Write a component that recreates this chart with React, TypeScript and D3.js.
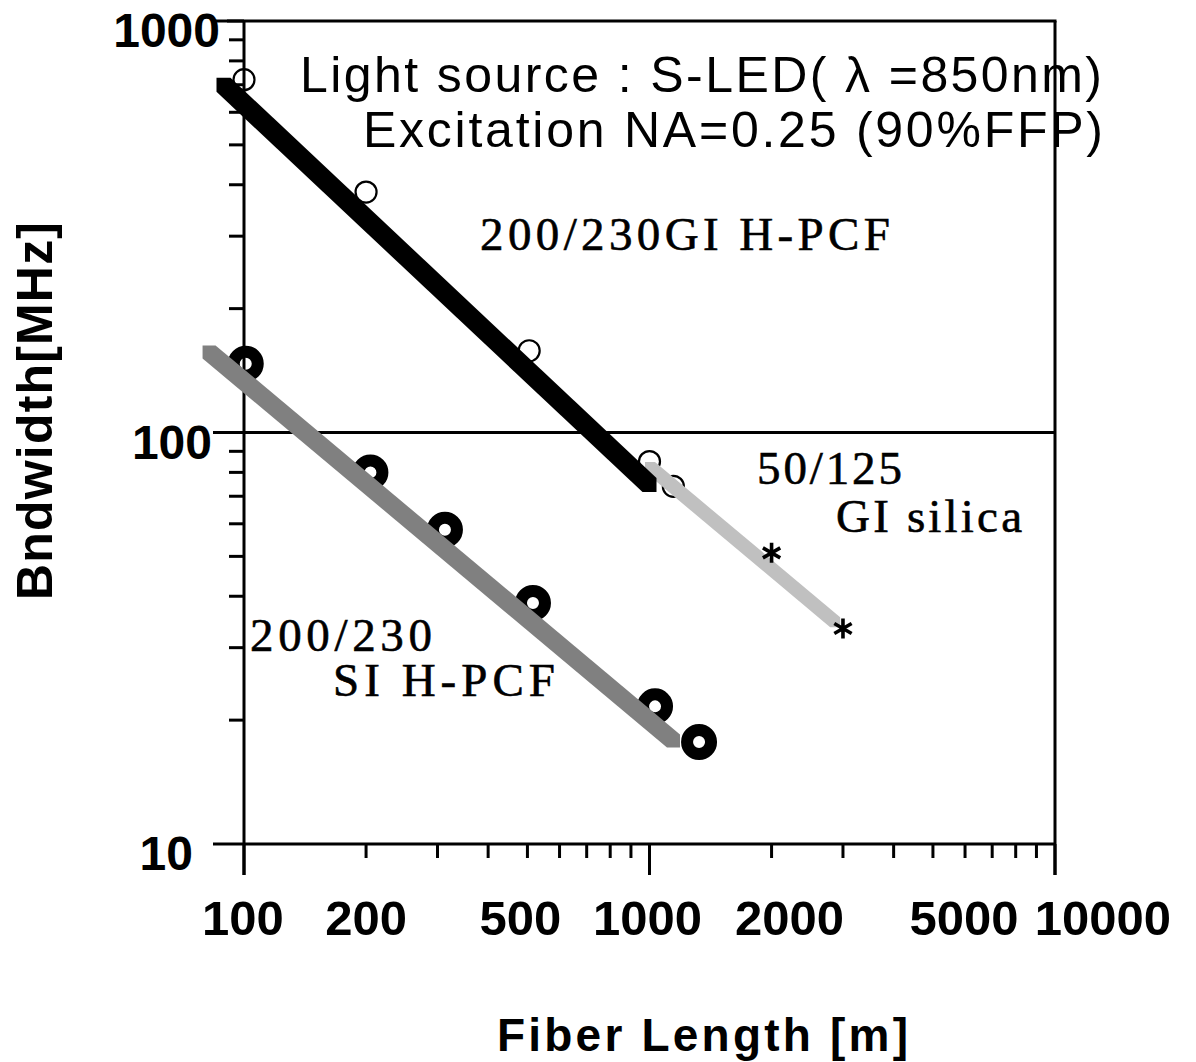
import React from "react";
import * as d3 from "d3";

// Measured bandwidth vs. fiber length
const giLength = [100, 200, 505, 1000, 1145];
const giBandwidth = [720, 384, 158, 85, 74];
const siLength = [101, 205, 313, 516, 1032, 1325];
const siBandwidth = [147, 80, 58, 38.5, 21.6, 17.7];
const silicaLength = [2000, 3000];
const silicaBandwidth = [51, 33.4];

// Fitted trend lines (end points)
const giFitLength = [89, 1000];
const giFitBandwidth = [700, 74.5];
const siFitLength = [82, 1146];
const siFitBandwidth = [157, 17.8];
const silicaFitLength = [1003, 2870];
const silicaFitBandwidth = [82.4, 34.6];

// Axis labels
const xTickLabels = ["100", "200", "500", "1000", "2000", "5000", "10000"];
const yTickLabels = ["10", "100", "1000"];

const W = 1196;
const H = 1062;

const x = d3.scaleLog().domain([100, 10000]).range([244, 1055]);
const y = d3.scaleLog().domain([10, 1000]).range([844, 21]);

// label placement tweaks (pixel shifts from tick position)
const xLabelShift: Record<string, number> = {
  "100": -1, "200": 0, "500": -7, "1000": -2, "2000": 18, "5000": 31, "10000": 48,
};
const yLabelRight: Record<string, number> = { "10": 193, "100": 212, "1000": 220 };

const SANS = "'Liberation Sans', Arial, Helvetica, sans-serif";
const SERIF = "'Liberation Serif', 'Times New Roman', serif";

// Thick line drawn with a square pen: hull of the pen squares at both ends
function penPath(xs: number[], ys: number[], s: number): string {
  const h = s / 2;
  const pts: [number, number][] = [];
  for (let i = 0; i < xs.length; i++) {
    const px = x(xs[i]);
    const py = y(ys[i]);
    pts.push([px - h, py - h], [px + h, py - h], [px + h, py + h], [px - h, py + h]);
  }
  const hull = d3.polygonHull(pts) || pts;
  return "M" + hull.map((p) => p.join(",")).join("L") + "Z";
}

function asteriskPath(cx: number, cy: number, r: number): string {
  let d = "";
  for (const a of [90, 30, 150]) {
    const rad = (a * Math.PI) / 180;
    const dx = Math.cos(rad) * r;
    const dy = Math.sin(rad) * r;
    d += `M${cx - dx},${cy - dy}L${cx + dx},${cy + dy}`;
  }
  return d;
}

export default function App() {
  const xTicks = x.ticks();
  const yTicks = y.ticks();
  const isMajor = (v: number) => Math.abs(Math.log10(v) - Math.round(Math.log10(v))) < 1e-9;

  return (
    <svg
      width={W}
      height={H}
      viewBox={`0 0 ${W} ${H}`}
      style={{ position: "absolute", left: 0, top: 0, background: "#fff" }}
    >
      <rect x={0} y={0} width={W} height={H} fill="#fff" />

      {/* ticks, grid line and axes */}
      <g stroke="#000" strokeWidth={3}>
        {xTicks.map((t, i) => (
          <line
            key={"xt" + i}
            x1={x(t)}
            x2={x(t)}
            y1={y(10)}
            y2={y(10) + (isMajor(t) ? 31 : 14)}
          />
        ))}
        {yTicks.map((t, i) => (
          <line
            key={"yt" + i}
            x1={x(100) - (isMajor(t) ? 31 : 15)}
            x2={x(100)}
            y1={y(t)}
            y2={y(t)}
          />
        ))}
        {/* grid line at 100 MHz */}
        <line x1={x(100)} x2={x(10000)} y1={y(100)} y2={y(100)} />
        <line x1={x(100)} x2={x(10000)} y1={y(10)} y2={y(10)} />
        <line x1={x(100)} x2={x(100)} y1={y(1000)} y2={y(10) + 31} />
      </g>

      {/* SI H-PCF markers */}
      <g fill="none" stroke="#000" strokeWidth={12}>
        {siLength.map((l, i) => (
          <circle key={"si" + i} cx={x(l)} cy={y(siBandwidth[i])} r={12} />
        ))}
      </g>
      {/* GI H-PCF markers */}
      <g fill="none" stroke="#000" strokeWidth={2.2}>
        {giLength.map((l, i) => (
          <circle key={"gi" + i} cx={x(l)} cy={y(giBandwidth[i])} r={10.5} />
        ))}
      </g>

      {/* fitted lines */}
      <path d={penPath(silicaFitLength, silicaFitBandwidth, 10)} fill="#c0c0c0" />
      <path d={penPath(siFitLength, siFitBandwidth, 13)} fill="#808080" />
      <path d={penPath(giFitLength, giFitBandwidth, 14)} fill="#000" />

      {/* GI silica markers */}
      <g stroke="#000" strokeWidth={3.6} strokeLinecap="butt">
        {silicaLength.map((l, i) => (
          <path key={"sq" + i} d={asteriskPath(x(l), y(silicaBandwidth[i]), 10)} />
        ))}
      </g>

      {/* tick labels */}
      <g fontFamily={SANS} fontWeight="bold" fontSize={49} fill="#000">
        {xTickLabels.map((lab) => (
          <text
            key={"xl" + lab}
            x={x(+lab) + xLabelShift[lab]}
            y={935}
            textAnchor="middle"
          >
            {lab}
          </text>
        ))}
      </g>
      <g fontFamily={SANS} fontWeight="bold" fontSize={48} fill="#000">
        {yTickLabels.map((lab) => (
          <text
            key={"yl" + lab}
            x={yLabelRight[lab]}
            y={y(+lab) + 26}
            textAnchor="end"
          >
            {lab}
          </text>
        ))}
      </g>

      {/* axis titles */}
      <text
        x={497}
        y={1051}
        fontFamily={SANS}
        fontWeight="bold"
        fontSize={46}
        textLength={411}
        lengthAdjust="spacing"
      >
        Fiber Length [m]
      </text>
      <text
        transform="translate(52,600) rotate(-90)"
        fontFamily={SANS}
        fontWeight="bold"
        fontSize={50}
        textLength={378}
        lengthAdjust="spacing"
      >
        Bndwidth[MHz]
      </text>

      {/* measurement conditions */}
      <g fontFamily={SANS} fontSize={50} fill="#000">
        <text x={300} y={92} textLength={802} lengthAdjust="spacing">
          Light source : S-LED( λ =850nm)
        </text>
        <text x={363} y={147} textLength={740} lengthAdjust="spacing">
          Excitation NA=0.25 (90%FFP)
        </text>
      </g>

      {/* series annotations */}
      <g fontFamily={SERIF} fontSize={47} fill="#000" stroke="#000" strokeWidth={0.6}>
        <text x={480} y={250} textLength={410} lengthAdjust="spacing">
          200/230GI H-PCF
        </text>
        <text x={757} y={484} textLength={145} lengthAdjust="spacing">
          50/125
        </text>
        <text x={836} y={532} textLength={186} lengthAdjust="spacing">
          GI silica
        </text>
        <text x={250} y={651} textLength={182} lengthAdjust="spacing">
          200/230
        </text>
        <text x={333} y={696} textLength={222} lengthAdjust="spacing">
          SI H-PCF
        </text>
      </g>

      {/* frame: top and right borders drawn last */}
      <g stroke="#000" strokeWidth={3}>
        <line x1={x(100) - 17} x2={x(10000) + 1.5} y1={y(1000)} y2={y(1000)} />
        <line x1={x(10000)} x2={x(10000)} y1={y(1000)} y2={y(10) + 31} />
      </g>
    </svg>
  );
}
